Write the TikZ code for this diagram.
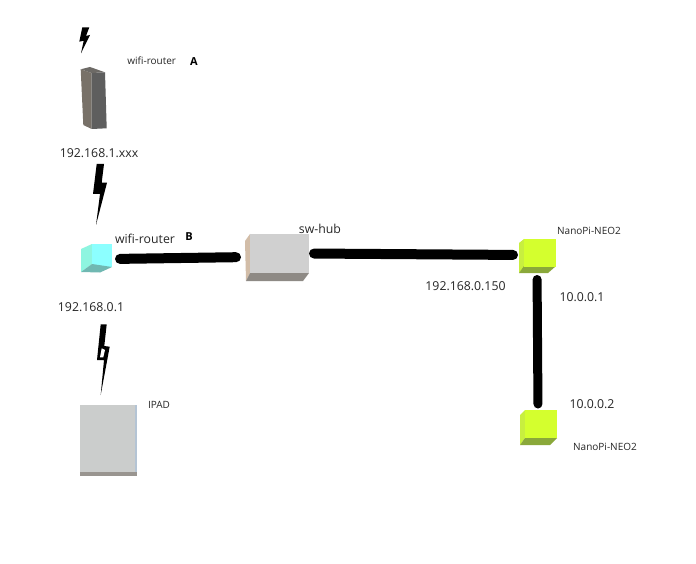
\documentclass[tikz,border=0pt]{standalone}
\usepackage{fontspec}
\setmainfont{Open Sans}
\definecolor{txt}{HTML}{262626}
\tikzset{
  lbl/.style={inner sep=0pt,text=txt,font=\fontsize{12.3}{14}\selectfont},
  smalllbl/.style={inner sep=0pt,text=txt,font=\fontsize{10}{12}\selectfont},
  boldlbl/.style={inner sep=0pt,text=black,font=\fontsize{11}{13}\selectfont\bfseries},
  cable/.style={draw=black,line width=10pt,line cap=round},
  bolt/.style={fill=black,draw=none}
}
\begin{document}
\begin{tikzpicture}[x=1pt,y=-1pt]
\useasboundingbox (0,0) rectangle (696,564);
\fill[white] (0,0) rectangle (696,564);

% Router A
\fill[fill={rgb,255:red,109;green,106;blue,102}] (80.7,69.3) -- (90,67) -- (105,72.3) -- (91.7,73) -- cycle;
\fill[fill={rgb,255:red,120;green,113;blue,104}] (80.7,69.3) -- (83.3,125) -- (91.7,129) -- (91.7,73) -- cycle;
\fill[fill={rgb,255:red,94;green,94;blue,94}] (91.7,73) -- (105,72.3) -- (106.7,128.3) -- (91.7,129) -- cycle;

% Router B
\fill[fill={rgb,255:red,142;green,245;blue,224}] (81,249) -- (92,244) -- (92,264) -- (81,272) -- cycle;
\node[fill={rgb,255:red,140;green,255;blue,255},inner sep=0pt,outer sep=0pt,minimum width=20pt,minimum height=23pt] (routerB) at (102,255.5) {};
\fill[fill={rgb,255:red,112;green,184;blue,178}] (81,272) -- (92,264) -- (112,267) -- (100,272.5) -- cycle;

% Hub
\fill[fill={rgb,255:red,210;green,189;blue,168}] (250,234) -- (245,241) -- (246,281) -- (250,273) -- cycle;
\fill[fill={rgb,255:red,142;green,138;blue,133}] (250,273) -- (309,273) -- (303,281) -- (246,281) -- cycle;
\node[fill={rgb,255:red,208;green,208;blue,208},inner sep=0pt,outer sep=0pt,minimum width=59pt,minimum height=39pt] (hub) at (279.5,253.5) {};

% NanoPi 1
\fill[fill={rgb,255:red,200;green,239;blue,63}] (519,243) -- (524,239) -- (524,267) -- (519,273) -- cycle;
\fill[fill={rgb,255:red,138;green,168;blue,58}] (519,273) -- (524,266) -- (556,266) -- (548,273) -- cycle;
\node[fill={rgb,255:red,212;green,255;blue,46},inner sep=0pt,outer sep=0pt,minimum width=32pt,minimum height=28pt] (nanoA) at (540,253) {};

% NanoPi 2
\fill[fill={rgb,255:red,200;green,239;blue,63}] (520,415) -- (525,410) -- (525,438) -- (520,445) -- cycle;
\fill[fill={rgb,255:red,138;green,168;blue,58}] (520,445) -- (525,438) -- (557,438) -- (550,445) -- cycle;
\node[fill={rgb,255:red,212;green,255;blue,46},inner sep=0pt,outer sep=0pt,minimum width=32pt,minimum height=28pt] (nanoB) at (541,424) {};

% iPad
\fill[fill={rgb,255:red,180;green,196;blue,212}] (135,405) rectangle (136.5,476);
\fill[fill={rgb,255:red,153;green,149;blue,144}] (80,472) rectangle (136.5,476);
\node[fill={rgb,255:red,203;green,205;blue,204},inner sep=0pt,outer sep=0pt,minimum width=55pt,minimum height=67pt] (ipad) at (107.5,438.5) {};

% Cables
\draw[cable,shorten <=8pt,shorten >=14pt] ([yshift=-3.5pt]routerB.east) -- ([yshift=-3.5pt]hub.west);
\draw[cable,shorten <=5pt,shorten >=11pt] (hub.east) -- ([yshift=-2pt]nanoA.west);
\draw[cable,line width=9pt,shorten <=12.5pt,shorten >=6pt] ([xshift=-3pt]nanoA.south) -- ([xshift=-3pt]nanoB.north);

% Lightning bolts
\fill[bolt] (82.3,27.3) -- (89.3,27.3) -- (86,36) -- (90,35) -- (81,53.3) -- (83.7,40.7) -- (79.3,41.7) -- cycle;
\fill[bolt] (96.7,164) -- (104,164) -- (101.7,182.7) -- (107,182.7) -- (96,225) -- (100,194) -- (93,194) -- cycle;
\fill[bolt] (100.7,324.3) -- (106.7,324.3) -- (104.3,346) -- (109.7,346.7) -- (100.7,395) -- (104,360) -- (97,360) -- cycle;
\fill[white] (101.7,348.3) -- (105,350) -- (103.3,357.3) -- (100,357.3) -- cycle;

% Labels
\node[smalllbl] (tA) at (151.7,60.7) {wifi-router};
\node[boldlbl] (lA) at (194,62) {A};
\node[lbl] (ipA) at (99,153) {192.168.1.xxx};
\node[lbl] (tB) at (145,239) {wifi-router};
\node[boldlbl] (lB) at (189,237) {B};
\node[lbl] (ipB) at (91,307) {192.168.0.1};
\node[smalllbl] (tI) at (159,405) {IPAD};
\node[lbl] (tH) at (320,229) {sw-hub};
\node[smalllbl] (tN1) at (589,231) {NanoPi-NEO2};
\node[smalllbl] (tN2) at (605,447) {NanoPi-NEO2};
\node[lbl] (ipN) at (465.5,286.5) {192.168.0.150};
\node[lbl] (ip1) at (582,297) {10.0.0.1};
\node[lbl] (ip2) at (592,404) {10.0.0.2};
\end{tikzpicture}
\end{document}
